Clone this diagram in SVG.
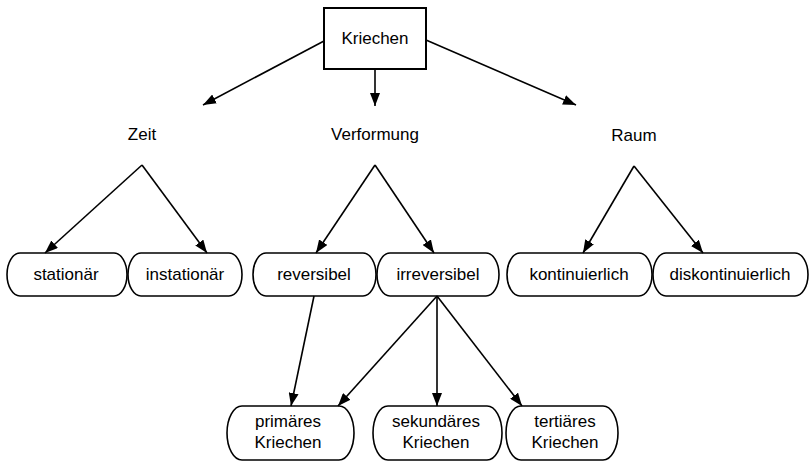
<svg xmlns="http://www.w3.org/2000/svg" width="810" height="463" viewBox="0 0 810 463">
<defs>
<marker id="ah" markerUnits="userSpaceOnUse" markerWidth="13" markerHeight="10" refX="13" refY="5" orient="auto">
<path d="M0,0 L13,5 L0,10 z" fill="#000"/>
</marker>
<style>
text{font-family:"Liberation Sans",Arial,sans-serif;font-size:17px;fill:#000;text-anchor:middle}
.box{fill:#fff;stroke:#000;stroke-width:2}
.pill{fill:#fff;stroke:#000;stroke-width:1.6}
.c line{stroke:#000;stroke-width:1.6;marker-end:url(#ah)}
</style>
</defs>
<rect width="810" height="463" fill="#fff"/>
<g id="n-kriechen"><rect class="box" x="324" y="8" width="102" height="61"/><text x="375" y="44">Kriechen</text></g>
<g id="n-zeit"><text x="142" y="140">Zeit</text></g>
<g id="n-verformung"><text x="375" y="140">Verformung</text></g>
<g id="n-raum"><text x="634" y="141">Raum</text></g>
<g id="n-stationaer"><rect class="pill" x="7" y="253" width="120" height="43" rx="13" ry="21.5"/><text x="66" y="280">stationär</text></g>
<g id="n-instationaer"><rect class="pill" x="128" y="253" width="114" height="43" rx="13" ry="21.5"/><text x="185" y="280">instationär</text></g>
<g id="n-reversibel"><rect class="pill" x="253" y="253" width="123" height="43" rx="13" ry="21.5"/><text x="314" y="280">reversibel</text></g>
<g id="n-irreversibel"><rect class="pill" x="377" y="253" width="122" height="43" rx="13" ry="21.5"/><text x="438" y="280">irreversibel</text></g>
<g id="n-kontinuierlich"><rect class="pill" x="507" y="253" width="145" height="43" rx="13" ry="21.5"/><text x="579" y="280">kontinuierlich</text></g>
<g id="n-diskontinuierlich"><rect class="pill" x="653" y="253" width="155" height="43" rx="13" ry="21.5"/><text x="730" y="280">diskontinuierlich</text></g>
<g id="n-primaer"><rect class="pill" x="227" y="406" width="127" height="54" rx="15" ry="27"/><text x="288" y="427">primäres</text><text x="288" y="448">Kriechen</text></g>
<g id="n-sekundaer"><rect class="pill" x="373" y="406" width="129" height="54" rx="15" ry="27"/><text x="436" y="427">sekundäres</text><text x="436" y="448">Kriechen</text></g>
<g id="n-tertiaer"><rect class="pill" x="506" y="406" width="112" height="54" rx="15" ry="27"/><text x="565" y="427">tertiäres</text><text x="565" y="448">Kriechen</text></g>
<g id="connectors" class="c">
<line x1="324" y1="41" x2="203" y2="105"/>
<line x1="375" y1="69" x2="375" y2="106"/>
<line x1="426" y1="40" x2="576" y2="105"/>
<line x1="142" y1="165" x2="45" y2="253"/>
<line x1="142" y1="165" x2="207" y2="253"/>
<line x1="375" y1="165" x2="316" y2="253"/>
<line x1="375" y1="165" x2="434" y2="253"/>
<line x1="634" y1="166" x2="583" y2="253"/>
<line x1="634" y1="166" x2="703" y2="253"/>
<line x1="314" y1="296" x2="291" y2="406"/>
<line x1="437" y1="296" x2="338" y2="406"/>
<line x1="437" y1="296" x2="437" y2="406"/>
<line x1="437" y1="296" x2="522" y2="406"/>
</g>
</svg>
